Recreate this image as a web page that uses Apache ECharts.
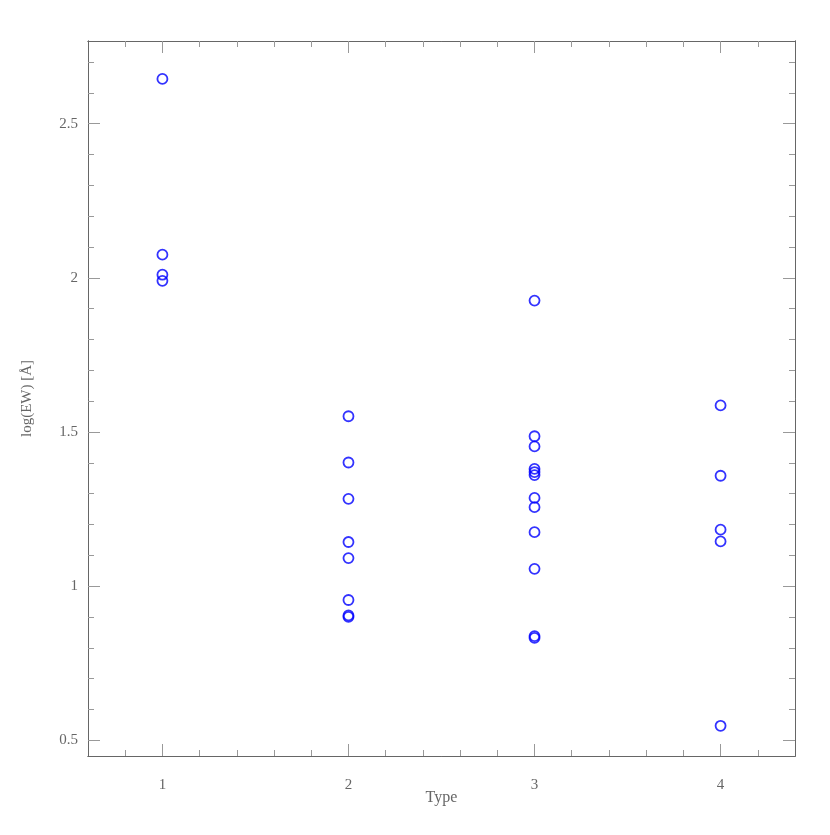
<!DOCTYPE html>
<html>
<head>
<meta charset="utf-8">
<title>log(EW) vs Type</title>
<script src="https://cdn.jsdelivr.net/npm/echarts@6/dist/echarts.min.js"></script>
<style>
  html, body { margin: 0; padding: 0; background: #fff; }
  #chart { width: 830px; height: 835px; }
</style>
</head>
<body>
<div id="chart"></div>
<script>
// EW values (log, Angstrom) read per type
var type1EW = [2.645, 2.075, 2.01, 1.99];
var type2EW = [1.551, 1.401, 1.283, 1.143, 1.091, 0.955, 0.905, 0.900];
var type3EW = [1.926, 1.486, 1.453, 1.38, 1.37, 1.36, 1.286, 1.256, 1.175, 1.056, 0.838, 0.832];
var type4EW = [1.586, 1.358, 1.183, 1.145, 0.547];

var xMajor = [1, 2, 3, 4];
var xMinor = [0.8, 1.2, 1.4, 1.6, 1.8, 2.2, 2.4, 2.6, 2.8, 3.2, 3.4, 3.6, 3.8, 4.2];
var yMajor = [0.5, 1, 1.5, 2, 2.5];
var yMinor = [0.6, 0.7, 0.8, 0.9, 1.1, 1.2, 1.3, 1.4, 1.6, 1.7, 1.8, 1.9, 2.1, 2.2, 2.3, 2.4, 2.6, 2.7];

var xMin = 0.6, xMax = 4.4;
var yMin = 0.449, yMax = 2.768;

var frameColor = '#666';
var textColor = '#666';
var fontFamily = '"Liberation Serif", "DejaVu Serif", serif';

var points = [];
[type1EW, type2EW, type3EW, type4EW].forEach(function (arr, i) {
  arr.forEach(function (v) { points.push([i + 1, v]); });
});

function xAxisOf(pos, ticks, len, showLabel, extra) {
  var ax = {
    type: 'value',
    position: pos,
    min: xMin,
    max: xMax,
    splitLine: { show: false },
    axisLine: { show: true, onZero: false, lineStyle: { color: frameColor, width: 1 } },
    axisTick: { show: true, inside: true, length: len, customValues: ticks, lineStyle: { color: '#999', width: 1 } },
    axisLabel: showLabel
      ? { show: true, customValues: ticks, margin: 22, color: textColor, fontSize: 15, fontFamily: fontFamily }
      : { show: false }
  };
  return Object.assign(ax, extra || {});
}

function yAxisOf(pos, ticks, len, showLabel, extra) {
  var ax = {
    type: 'value',
    position: pos,
    min: yMin,
    max: yMax,
    splitLine: { show: false },
    axisLine: { show: true, onZero: false, lineStyle: { color: frameColor, width: 1 } },
    axisTick: { show: true, inside: true, length: len, customValues: ticks, lineStyle: { color: '#999', width: 1 } },
    axisLabel: showLabel
      ? { show: true, customValues: ticks, margin: 10, color: textColor, fontSize: 15, fontFamily: fontFamily }
      : { show: false }
  };
  return Object.assign(ax, extra || {});
}

var chart = echarts.init(document.getElementById('chart'), null, { renderer: 'canvas' });

var option = {
  backgroundColor: '#fff',
  animation: false,
  grid: { left: 88, right: 35, top: 41, bottom: 79, containLabel: false },
  xAxis: [
    xAxisOf('bottom', xMajor, 12, true, {
      name: 'Type',
      nameLocation: 'middle',
      nameGap: 34,
      nameMoveOverlap: false,
      nameTextStyle: { color: textColor, fontSize: 16, fontFamily: fontFamily }
    }),
    xAxisOf('bottom', xMinor, 6, false),
    xAxisOf('top', xMajor, 12, false),
    xAxisOf('top', xMinor, 6, false)
  ],
  yAxis: [
    yAxisOf('left', yMajor, 12, true, {
      name: 'log(EW) [Å]',
      nameLocation: 'middle',
      nameGap: 53,
      nameMoveOverlap: false,
      nameRotate: 90,
      nameTextStyle: { color: textColor, fontSize: 15, fontFamily: fontFamily }
    }),
    yAxisOf('left', yMinor, 6, false),
    yAxisOf('right', yMajor, 12, false),
    yAxisOf('right', yMinor, 6, false)
  ],
  series: [
    {
      type: 'scatter',
      xAxisIndex: 0,
      yAxisIndex: 0,
      data: points,
      symbol: 'circle',
      symbolSize: 10,
      itemStyle: { color: 'transparent', borderColor: '#0000ff', borderWidth: 1.8 },
      emphasis: { disabled: true }
    }
  ]
};

chart.setOption(option);
</script>
</body>
</html>
